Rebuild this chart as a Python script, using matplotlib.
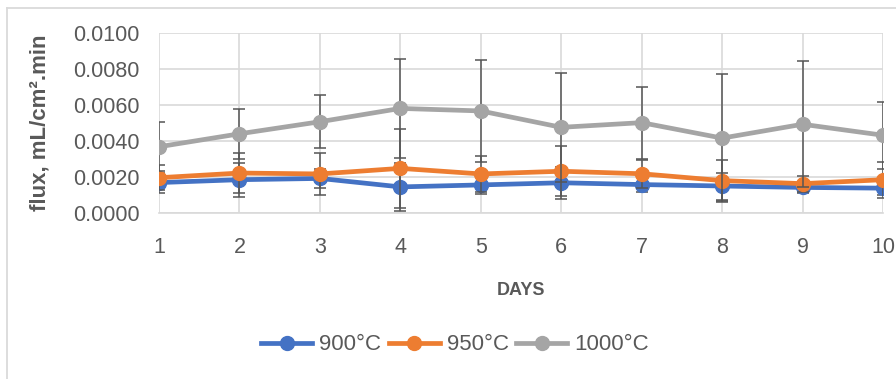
import matplotlib
import matplotlib.pyplot as plt
from matplotlib.lines import Line2D

matplotlib.use("Agg")

plt.rcParams["font.family"] = ["Liberation Sans", "DejaVu Sans"]

# flux per day for each sintering temperature (mL/cm².min)
days = [1, 2, 3, 4, 5, 6, 7, 8, 9, 10]
flux_900 = [0.00169, 0.00185, 0.00192, 0.00145, 0.00156, 0.00168, 0.00158, 0.00150, 0.00142, 0.00138]
err_900 = [0.00056, 0.00095, 0.00055, 0.00135, 0.00050, 0.00088, 0.00040, 0.00075, 0.00030, 0.00040]
flux_950 = [0.00196, 0.00222, 0.00217, 0.00248, 0.00217, 0.00232, 0.00218, 0.00180, 0.00163, 0.00185]
err_950 = [0.00070, 0.00110, 0.00115, 0.00220, 0.00100, 0.00140, 0.00078, 0.00114, 0.00045, 0.00100]
flux_1000 = [0.00368, 0.00440, 0.00507, 0.00581, 0.00567, 0.00476, 0.00502, 0.00416, 0.00493, 0.00432]
err_1000 = [0.00136, 0.00139, 0.00147, 0.00276, 0.00283, 0.00304, 0.00200, 0.00355, 0.00350, 0.00185]

series = [
    ("900°C", flux_900, err_900, "#4472C4"),
    ("950°C", flux_950, err_950, "#ED7D31"),
    ("1000°C", flux_1000, err_1000, "#A5A5A5"),
]
y_ticks = [0.0, 0.002, 0.004, 0.006, 0.008, 0.010]

text_color = "#595959"
grid_color = "#D9D9D9"

fig = plt.figure(figsize=(8.96, 3.79), dpi=100)
ax = fig.add_axes([159 / 896, 1 - 213 / 379, 724 / 896, 180 / 379])

for i, (label, values, errs, color) in enumerate(series):
    ax.errorbar(
        days, values, yerr=errs,
        color=color, linewidth=3.4, marker="o", markersize=10,
        ecolor="#555555", elinewidth=1.1, capsize=4, capthick=1.1,
        label=label, zorder=3 + i,
    )

ax.set_xlim(1, 10)
ax.set_ylim(0, 0.01)
ax.set_xticks(days)
ax.set_yticks(y_ticks)
ax.set_yticklabels([f"{v:.4f}" for v in y_ticks])
ax.tick_params(axis="both", length=0, labelsize=15.5, colors=text_color)
ax.tick_params(axis="y", pad=14)
ax.tick_params(axis="x", pad=17)

ax.grid(True, color=grid_color, linewidth=1.2)
ax.set_axisbelow(True)
for side in ["top", "right", "left"]:
    ax.spines[side].set_visible(False)
ax.spines["bottom"].set_color(grid_color)
ax.spines["bottom"].set_linewidth(1.2)

ax.set_ylabel("flux, mL/cm².min", fontsize=16, fontweight="bold", color=text_color)
ax.yaxis.set_label_coords(-0.150, 0.5)
ax.set_xlabel("DAYS", fontsize=13, fontweight="bold", color=text_color)
ax.xaxis.set_label_coords(0.5, -0.385)

handles, labels = ax.get_legend_handles_labels()
handles = [h[0] for h in handles]
leg = fig.legend(
    handles, labels, loc="center", bbox_to_anchor=(455 / 896, 1 - 345 / 379),
    ncol=3, frameon=False, fontsize=16, handlelength=2.3, handletextpad=0.3,
    columnspacing=0.35,
)
for t in leg.get_texts():
    t.set_color(text_color)

# chart area border on the left and top edges
fig.add_artist(Line2D([6.5 / 896, 6.5 / 896], [0, 1 - 7.5 / 379], transform=fig.transFigure,
                      color="#DADADA", linewidth=1.3))
fig.add_artist(Line2D([6.5 / 896, 1], [1 - 7.5 / 379, 1 - 7.5 / 379], transform=fig.transFigure,
                      color="#DADADA", linewidth=1.3))

fig.savefig("out.png", dpi=100)
plt.close(fig)
